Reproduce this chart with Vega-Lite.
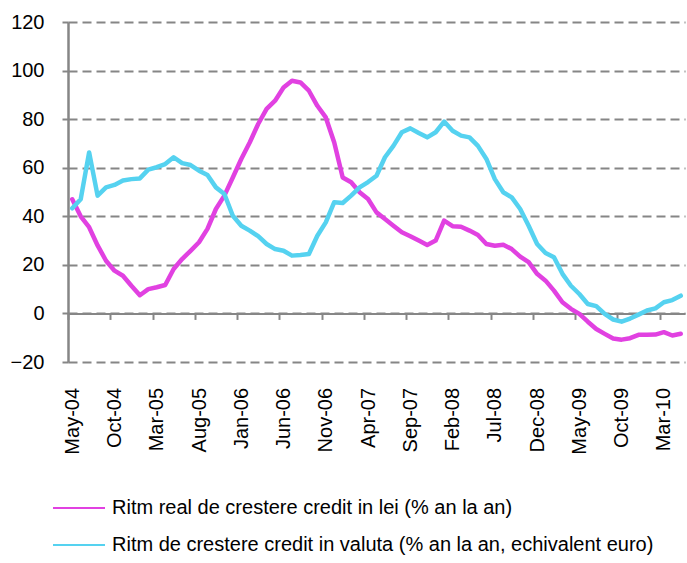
{
  "$schema": "https://vega.github.io/schema/vega-lite/v6.json",
  "width": 617,
  "height": 340,
  "autosize": {"type": "none"},
  "padding": {"left": 68, "top": 22, "right": 2, "bottom": 201},
  "background": "white",
  "config": {"view": {"stroke": null}, "font": "Liberation Sans"},
  "data": {"values": [
    {"m":"May-04","lei":47,"valuta":43.3},{"m":"Jun-04","lei":40,"valuta":47},{"m":"Jul-04","lei":35.5,"valuta":66.3},
    {"m":"Aug-04","lei":28,"valuta":48.5},{"m":"Sep-04","lei":21.7,"valuta":51.9},{"m":"Oct-04","lei":17.6,"valuta":52.9},
    {"m":"Nov-04","lei":15.5,"valuta":54.7},{"m":"Dec-04","lei":11.4,"valuta":55.3},{"m":"Jan-05","lei":7.5,"valuta":55.6},
    {"m":"Feb-05","lei":10,"valuta":59.2},{"m":"Mar-05","lei":10.8,"valuta":60.2},{"m":"Apr-05","lei":11.7,"valuta":61.5},
    {"m":"May-05","lei":18.3,"valuta":64.3},{"m":"Jun-05","lei":22.4,"valuta":61.9},{"m":"Jul-05","lei":25.8,"valuta":61.1},
    {"m":"Aug-05","lei":29.3,"valuta":58.8},{"m":"Sep-05","lei":34.8,"valuta":57},{"m":"Oct-05","lei":43,"valuta":51.9},
    {"m":"Nov-05","lei":48.5,"valuta":49.2},{"m":"Dec-05","lei":56,"valuta":40.2},{"m":"Jan-06","lei":63.6,"valuta":36.1},
    {"m":"Feb-06","lei":70.4,"valuta":34.1},{"m":"Mar-06","lei":78,"valuta":31.8},{"m":"Apr-06","lei":84.2,"valuta":28.6},
    {"m":"May-06","lei":87.6,"valuta":26.5},{"m":"Jun-06","lei":93,"valuta":25.8},{"m":"Jul-06","lei":95.8,"valuta":23.8},
    {"m":"Aug-06","lei":95.1,"valuta":24.1},{"m":"Sep-06","lei":91.7,"valuta":24.5},{"m":"Oct-06","lei":85.5,"valuta":32},
    {"m":"Nov-06","lei":80.7,"valuta":37.5},{"m":"Dec-06","lei":70.4,"valuta":45.8},{"m":"Jan-07","lei":56,"valuta":45.5},
    {"m":"Feb-07","lei":54,"valuta":48.5},{"m":"Mar-07","lei":49.9,"valuta":51.9},{"m":"Apr-07","lei":47.1,"valuta":54.1},
    {"m":"May-07","lei":41.6,"valuta":56.7},{"m":"Jun-07","lei":38.9,"valuta":64.3},{"m":"Jul-07","lei":36.1,"valuta":69},
    {"m":"Aug-07","lei":33.4,"valuta":74.6},{"m":"Sep-07","lei":31.8,"valuta":76.2},{"m":"Oct-07","lei":30,"valuta":74.3},
    {"m":"Nov-07","lei":28.2,"valuta":72.5},{"m":"Dec-07","lei":30,"valuta":74.6},{"m":"Jan-08","lei":38.2,"valuta":79},
    {"m":"Feb-08","lei":35.9,"valuta":75.2},{"m":"Mar-08","lei":35.7,"valuta":73.2},{"m":"Apr-08","lei":34.1,"valuta":72.5},
    {"m":"May-08","lei":32.3,"valuta":69},{"m":"Jun-08","lei":28.6,"valuta":63.6},{"m":"Jul-08","lei":27.9,"valuta":55.3},
    {"m":"Aug-08","lei":28.3,"valuta":49.9},{"m":"Sep-08","lei":26.5,"valuta":47.8},{"m":"Oct-08","lei":23.4,"valuta":43},
    {"m":"Nov-08","lei":21.1,"valuta":36.1},{"m":"Dec-08","lei":16.3,"valuta":28.6},{"m":"Jan-09","lei":13.5,"valuta":24.9},
    {"m":"Feb-09","lei":9.4,"valuta":23.1},{"m":"Mar-09","lei":4.6,"valuta":16.3},{"m":"Apr-09","lei":1.9,"valuta":11.4},
    {"m":"May-09","lei":-0.2,"valuta":8},{"m":"Jun-09","lei":-3.4,"valuta":3.9},{"m":"Jul-09","lei":-6.4,"valuta":3},
    {"m":"Aug-09","lei":-8.4,"valuta":-0.2},{"m":"Sep-09","lei":-10.3,"valuta":-2.5},{"m":"Oct-09","lei":-10.8,"valuta":-3.4},
    {"m":"Nov-09","lei":-10.2,"valuta":-2.1},{"m":"Dec-09","lei":-8.8,"valuta":-0.5},{"m":"Jan-10","lei":-8.8,"valuta":1.2},
    {"m":"Feb-10","lei":-8.7,"valuta":2.1},{"m":"Mar-10","lei":-7.7,"valuta":4.6},{"m":"Apr-10","lei":-9.1,"valuta":5.5},
    {"m":"May-10","lei":-8.4,"valuta":7.3}
  ]},
  "transform": [{"fold": ["lei", "valuta"], "as": ["serie", "v"]}],
  "mark": {"type": "line", "strokeWidth": 4.5, "strokeJoin": "round", "strokeCap": "round"},
  "encoding": {
    "x": {
      "field": "m", "type": "ordinal", "sort": null,
      "scale": {"type": "point", "padding": 0.5},
      "axis": {
        "title": null,
        "values": ["May-04","Oct-04","Mar-05","Aug-05","Jan-06","Jun-06","Nov-06","Apr-07","Sep-07","Feb-08","Jul-08","Dec-08","May-09","Oct-09","Mar-10"],
        "labelAngle": -90, "labelAlign": "right", "labelBaseline": "middle",
        "labelFontSize": 20, "labelFont": "Liberation Sans", "labelColor": "#000000",
        "labelOverlap": false, "labelPadding": 68,
        "domainColor": "#868686", "domainWidth": 2,
        "tickColor": "#868686", "tickWidth": 2, "tickSize": 6,
        "offset": -48.57, "tickOffset": -4.226, "labelOffset": 4.226,
        "grid": false
      }
    },
    "y": {
      "field": "v", "type": "quantitative",
      "scale": {"domain": [-20, 120], "nice": false, "zero": false},
      "axis": {
        "title": null, "values": [-20, 0, 20, 40, 60, 80, 100, 120],
        "grid": true, "gridDash": [9, 5], "gridColor": "#868686", "gridWidth": 2,
        "domainColor": "#868686", "domainWidth": 2.5,
        "tickColor": "#868686", "tickWidth": 2, "tickSize": 6,
        "labelPadding": 18, "labelFontSize": 20, "labelFont": "Liberation Sans", "labelColor": "#000000"
      }
    },
    "color": {
      "field": "serie", "type": "nominal",
      "scale": {"domain": ["lei", "valuta"], "range": ["#E141E1", "#55D2F0"]},
      "legend": {
        "title": null, "orient": "none", "legendX": -16, "legendY": 459,
        "direction": "vertical", "padding": 0,
        "symbolType": "stroke", "symbolSize": 2704, "symbolStrokeWidth": 2,
        "labelFontSize": 20, "labelFont": "Liberation Sans", "labelColor": "#000000",
        "labelOffset": 6, "rowPadding": -2, "labelLimit": 700,
        "labelExpr": "datum.value == 'lei' ? 'Ritm real de crestere credit in lei (% an la an)' : 'Ritm de crestere credit in valuta (% an la an, echivalent euro)'"
      }
    }
  }
}
